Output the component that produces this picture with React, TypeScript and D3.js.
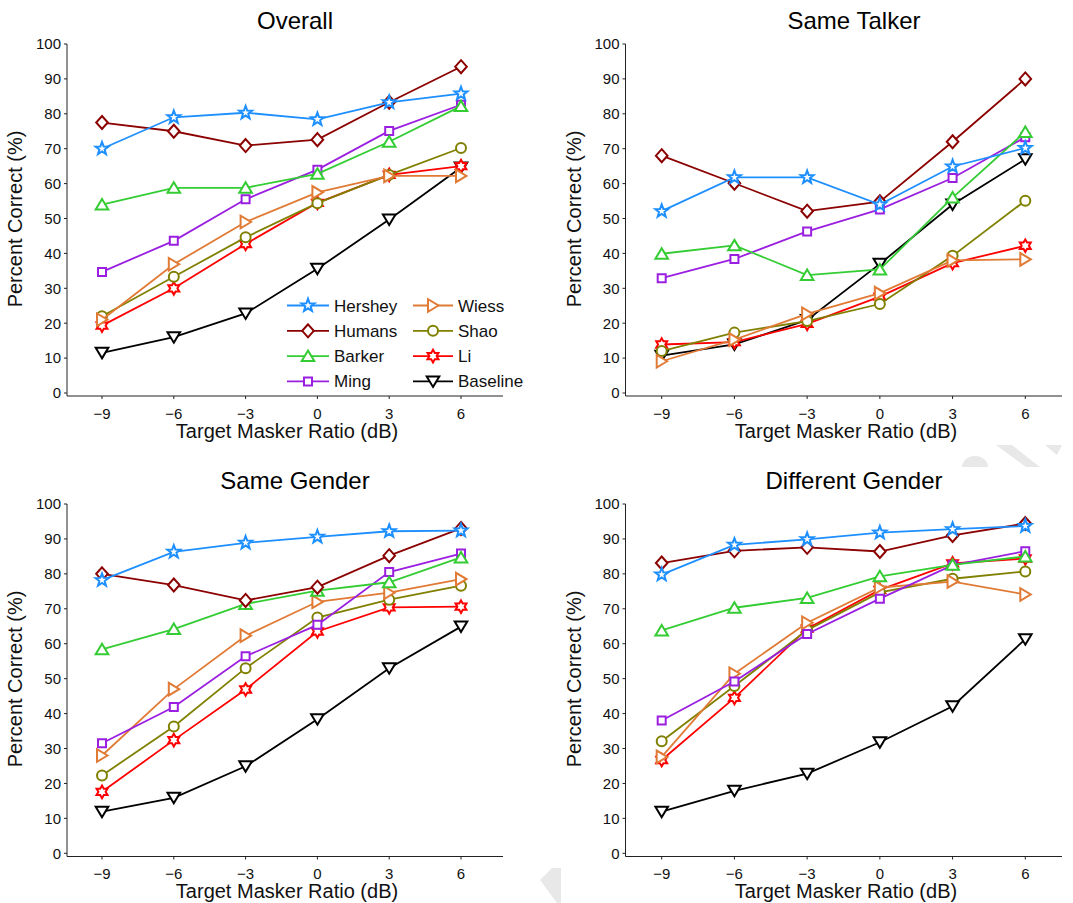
import React from 'react';
import * as d3 from 'd3';

const xTicks = [-9, -6, -3, 0, 3, 6];
const yTicks = [0, 10, 20, 30, 40, 50, 60, 70, 80, 90, 100];
const xTickLabels = ['\u22129', '\u22126', '\u22123', '0', '3', '6'];

const seriesNames = ['Hershey', 'Humans', 'Barker', 'Ming', 'Wiess', 'Shao', 'Li', 'Baseline'];
const seriesColors = ['#1e8fff', '#8b0000', '#33cc33', '#9a1fe0', '#e07a35', '#808000', '#ff0000', '#000000'];
const seriesMarkers = ['pentagram', 'diamond', 'triangleUp', 'square', 'triangleRight', 'circle', 'hexagram', 'triangleDown'];

const panelTitles = ['Overall', 'Same Talker', 'Same Gender', 'Different Gender'];

// values per series in seriesNames order, at xTicks
const overallValues = [
  [70.0, 79.0, 80.3, 78.4, 83.3, 85.8],
  [77.5, 75.0, 70.9, 72.6, 83.3, 93.5],
  [54.0, 58.8, 58.8, 62.8, 72.0, 82.2],
  [34.7, 43.6, 55.5, 64.0, 75.1, 82.6],
  [21.0, 36.9, 49.0, 57.5, 62.2, 62.2],
  [22.0, 33.3, 44.6, 54.4, 62.5, 70.2],
  [19.3, 30.0, 42.7, 54.5, 62.5, 65.0],
  [11.5, 16.0, 22.8, 35.6, 49.7, 64.6],
];
const sameTalkerValues = [
  [52.1, 61.8, 61.8, 54.0, 64.9, 70.2],
  [68.0, 60.1, 52.1, 54.8, 72.0, 90.0],
  [39.9, 42.3, 33.8, 35.4, 56.0, 74.8],
  [32.9, 38.4, 46.3, 52.6, 61.6, 73.3],
  [9.1, 15.3, 22.7, 28.6, 38.0, 38.3],
  [12.0, 17.3, 20.6, 25.5, 39.3, 55.1],
  [13.9, 14.6, 19.8, 27.6, 37.2, 42.2],
  [10.7, 13.9, 20.9, 37.0, 54.0, 67.0],
];
const sameGenderValues = [
  [78.2, 86.3, 88.9, 90.6, 92.2, 92.4],
  [80.0, 76.8, 72.4, 76.2, 85.2, 93.0],
  [58.4, 64.2, 71.4, 75.2, 77.6, 84.7],
  [31.5, 41.9, 56.4, 65.4, 80.5, 85.8],
  [28.0, 47.0, 62.3, 72.0, 74.6, 78.5],
  [22.3, 36.3, 53.0, 67.5, 72.6, 76.6],
  [17.6, 32.4, 46.9, 63.5, 70.4, 70.6],
  [11.9, 15.9, 24.9, 38.4, 53.0, 64.9],
];
const differentGenderValues = [
  [79.8, 88.3, 89.9, 91.8, 92.8, 93.7],
  [83.1, 86.6, 87.6, 86.4, 91.0, 94.4],
  [63.8, 70.3, 73.1, 79.3, 82.6, 85.0],
  [38.0, 49.2, 62.8, 72.9, 82.5, 86.5],
  [27.6, 51.4, 66.0, 76.1, 77.8, 74.1],
  [32.1, 47.9, 63.9, 74.7, 78.6, 80.7],
  [26.7, 44.5, 64.3, 75.4, 83.0, 84.4],
  [11.9, 17.9, 22.8, 31.8, 42.1, 61.3],
];
const panelValues = [overallValues, sameTalkerValues, sameGenderValues, differentGenderValues];

const FONT = '"Liberation Sans", Arial, Helvetica, sans-serif';
const AXIS = '#222';
const LINE_W = 1.8;
const MARK_W = 2;

const cols = [
  { axisX: 67, x0: 102, x1: 461, xEnd: 503, titleX: 295, labelX: 287, yLabelX: 22 },
  { axisX: 625.5, x0: 661.7, x1: 1025.3, xEnd: 1062, titleX: 854, labelX: 846, yLabelX: 581 },
];
const rows = [
  { yTop: 44, yZero: 393, axisY: 396, titleY: 29, tickY: 419, labelY: 438, yLabelY: 219 },
  { yTop: 504, yZero: 853.3, axisY: 856.5, titleY: 489, tickY: 879, labelY: 898, yLabelY: 679 },
];

function starPath(n: number, rOut: number, rIn: number): string {
  const pts: string[] = [];
  for (let i = 0; i < 2 * n; i++) {
    const r = i % 2 === 0 ? rOut : rIn;
    const a = -Math.PI / 2 + (i * Math.PI) / n;
    pts.push(`${(r * Math.cos(a)).toFixed(2)},${(r * Math.sin(a)).toFixed(2)}`);
  }
  return 'M' + pts.join('L') + 'Z';
}

function markerPath(kind: string): string {
  switch (kind) {
    case 'pentagram':
      return starPath(5, 6.8, 2.8);
    case 'hexagram':
      return starPath(6, 6.3, 3.6);
    case 'diamond':
      return 'M0,-6.5L5.8,0L0,6.5L-5.8,0Z';
    case 'triangleUp':
      return 'M0,-5.5L6.3,5L-6.3,5Z';
    case 'triangleDown':
      return 'M0,5.5L6.3,-5L-6.3,-5Z';
    case 'triangleRight':
      return 'M5.5,0L-5,6.3L-5,-6.3Z';
    case 'square':
      return 'M-4,-4L4,-4L4,4L-4,4Z';
    case 'circle':
    default:
      return 'M5,0A5,5 0 1,1 -5,0A5,5 0 1,1 5,0Z';
  }
}

function Panel({ index }: { index: number }) {
  const col = cols[index % 2];
  const row = rows[Math.floor(index / 2)];
  const x = d3.scaleLinear().domain([-9, 6]).range([col.x0, col.x1]);
  const y = d3.scaleLinear().domain([0, 100]).range([row.yZero, row.yTop]);
  const values = panelValues[index];
  const line = d3
    .line<number>()
    .x((_, i) => x(xTicks[i]))
    .y((v) => y(v));
  const order = d3.range(seriesNames.length).reverse();

  return (
    <g>
      <text x={col.titleX} y={row.titleY} fontSize={24} textAnchor="middle" fontFamily={FONT} fill="#000">
        {panelTitles[index]}
      </text>
      <line x1={col.axisX} x2={col.axisX} y1={y(100)} y2={row.axisY} stroke={AXIS} strokeWidth={1} />
      <line x1={col.axisX} x2={col.xEnd} y1={row.axisY} y2={row.axisY} stroke={AXIS} strokeWidth={1} />
      {yTicks.map((t) => (
        <g key={'yt' + t}>
          <line x1={col.axisX - 3} x2={col.axisX} y1={y(t)} y2={y(t)} stroke={AXIS} strokeWidth={1} />
          <text x={col.axisX - 6} y={y(t) + 5.3} fontSize={15} textAnchor="end" fontFamily={FONT} fill="#111">
            {t}
          </text>
        </g>
      ))}
      {xTicks.map((t, i) => (
        <g key={'xt' + t}>
          <line x1={x(t)} x2={x(t)} y1={row.axisY} y2={row.axisY + 3} stroke={AXIS} strokeWidth={1} />
          <text x={x(t)} y={row.tickY} fontSize={15} textAnchor="middle" fontFamily={FONT} fill="#111">
            {xTickLabels[i]}
          </text>
        </g>
      ))}
      <text x={col.labelX} y={row.labelY} fontSize={20} textAnchor="middle" fontFamily={FONT} fill="#111">
        Target Masker Ratio (dB)
      </text>
      <text
        transform={`translate(${col.yLabelX},${row.yLabelY}) rotate(-90)`}
        fontSize={20}
        textAnchor="middle"
        fontFamily={FONT}
        fill="#111"
      >
        Percent Correct (%)
      </text>
      {order.map((s) => (
        <g key={seriesNames[s]}>
          <path d={line(values[s]) || ''} fill="none" stroke={seriesColors[s]} strokeWidth={LINE_W} />
          {values[s].map((v, i) => (
            <path
              key={i}
              d={markerPath(seriesMarkers[s])}
              transform={`translate(${x(xTicks[i])},${y(v)})`}
              fill="#fff"
              stroke={seriesColors[s]}
              strokeWidth={MARK_W}
            />
          ))}
        </g>
      ))}
      {index === 0 && <Legend />}
    </g>
  );
}

const legendRowsY = [305.5, 330.8, 356.1, 381.4];
const legendCols = [
  { lx1: 287, lx2: 329, mx: 308, tx: 334 },
  { lx1: 413, lx2: 453, mx: 433, tx: 458 },
];

function Legend() {
  return (
    <g>
      {seriesNames.map((name, s) => {
        const c = legendCols[Math.floor(s / 4)];
        const ly = legendRowsY[s % 4];
        return (
          <g key={name}>
            <line x1={c.lx1} x2={c.lx2} y1={ly} y2={ly} stroke={seriesColors[s]} strokeWidth={LINE_W} />
            <path
              d={markerPath(seriesMarkers[s])}
              transform={`translate(${c.mx},${ly})`}
              fill="#fff"
              stroke={seriesColors[s]}
              strokeWidth={MARK_W}
            />
            <text x={c.tx} y={ly + 6} fontSize={17} fontFamily={FONT} fill="#111">
              {name}
            </text>
          </g>
        );
      })}
    </g>
  );
}

export default function App() {
  return (
    <svg
      width={1073}
      height={903}
      style={{ position: 'absolute', left: 0, top: 0, background: '#fff' }}
      xmlns="http://www.w3.org/2000/svg"
    >
      <rect x={0} y={0} width={1073} height={903} fill="#fff" />
      <g fill="#e8e8e8">
        <path d="M962,467A13,11 0 0,1 988,467Z" />
        <path d="M996,445L1012,445L1040,467L1026,467Z" />
        <path d="M1045,445L1062,445L1057,455Z" />
        <path d="M552,868L561,868L561,903L557,903L540,880Z" />
      </g>
      {[0, 1, 2, 3].map((i) => (
        <Panel key={i} index={i} />
      ))}
    </svg>
  );
}
